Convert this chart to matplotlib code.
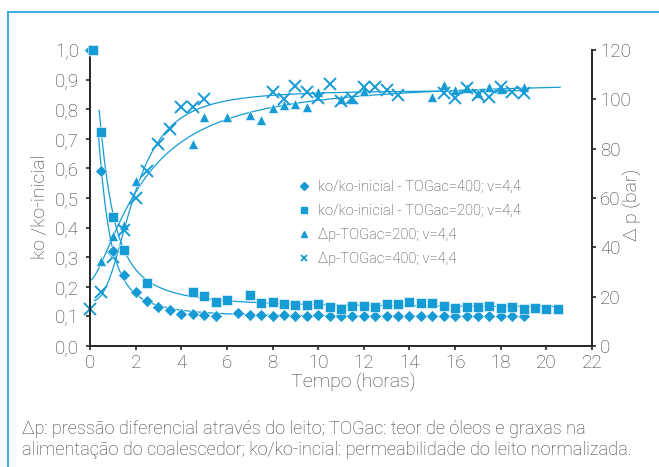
import numpy as np
import matplotlib
matplotlib.use("Agg")
import matplotlib.pyplot as plt
from matplotlib.lines import Line2D
from matplotlib.ticker import FuncFormatter

# ---------------- data ----------------
t_d400 = [0.0, 0.5, 1.0, 1.5, 2.0, 2.5, 3.0, 3.5, 4.0, 4.5, 5.0, 5.5, 6.5, 7.0, 7.5, 8.0, 8.5,
          9.0, 9.5, 10.0, 10.5, 11.0, 11.5, 12.0, 12.5, 13.0, 13.5, 14.0, 14.5, 15.0, 15.5,
          16.0, 16.5, 17.0, 17.5, 18.0, 18.5, 19.0]
ko_400 = [1.0, 0.59, 0.32, 0.24, 0.183, 0.153, 0.131, 0.122, 0.108, 0.108, 0.105, 0.101, 0.11,
          0.105, 0.105, 0.103, 0.105, 0.101, 0.103, 0.105, 0.100, 0.103, 0.102, 0.102, 0.101,
          0.102, 0.102, 0.103, 0.102, 0.102, 0.101, 0.103, 0.101, 0.102, 0.102, 0.101, 0.101, 0.102]

t_s200 = [0.15, 0.5, 1.0, 1.5, 2.5, 4.5, 5.0, 5.5, 6.0, 7.0, 7.5, 8.0, 8.5, 9.0, 9.5, 10.0, 10.5,
          11.0, 11.5, 12.0, 12.5, 13.0, 13.5, 14.0, 14.5, 15.0, 15.5, 16.0, 16.5, 17.0, 17.5,
          18.0, 18.5, 19.0, 19.5, 20.0, 20.5]
ko_200 = [1.0, 0.724, 0.437, 0.325, 0.212, 0.183, 0.169, 0.150, 0.155, 0.172, 0.146, 0.149, 0.142,
          0.139, 0.139, 0.142, 0.133, 0.124, 0.135, 0.135, 0.133, 0.141, 0.142, 0.150, 0.146,
          0.146, 0.135, 0.129, 0.133, 0.131, 0.135, 0.129, 0.131, 0.124, 0.129, 0.126, 0.126]

t_p200 = [0.5, 1.0, 1.5, 2.0, 4.5, 5.0, 6.0, 7.0, 7.5, 8.0, 8.5, 9.0, 9.5, 10.0, 11.0, 11.5, 12.0,
          15.0, 15.5, 16.0, 16.5, 17.0, 17.5, 18.0, 19.0]
dp_200 = [34.6, 44.5, 49.0, 67.0, 82.0, 93.0, 92.7, 93.8, 91.7, 96.6, 97.8, 98.0, 97.0, 102.8,
          100.0, 100.0, 103.2, 101.0, 106.0, 103.8, 104.7, 102.4, 105.0, 104.0, 105.0]

t_p400 = [0.0, 0.5, 1.0, 1.5, 2.0, 2.5, 3.0, 3.5, 4.0, 4.5, 5.0, 8.0, 8.5, 9.0, 9.5, 10.0, 10.5,
          11.0, 11.5, 12.0, 12.5, 13.0, 13.5, 15.5, 16.0, 16.5, 17.0, 17.5, 18.0, 18.5, 19.0]
dp_400 = [15.0, 22.0, 36.0, 47.0, 60.0, 71.0, 82.0, 88.0, 97.0, 97.0, 100.0, 103.0, 100.0, 105.4,
          103.0, 100.5, 106.3, 99.5, 100.4, 105.2, 105.1, 103.8, 101.8, 102.4, 100.4, 104.7,
          101.8, 101.0, 105.1, 103.1, 102.4]

labels = ["ko/ko-inicial - TOGac=400; v=4,4", "ko/ko-inicial - TOGac=200; v=4,4",
          "\u0394p-TOGac=200; v=4,4", "\u0394p-TOGac=400; v=4,4"]
x_ticks = list(range(0, 23, 2))
yl_ticks = [0.0, 0.1, 0.2, 0.3, 0.4, 0.5, 0.6, 0.7, 0.8, 0.9, 1.0]
yr_ticks = list(range(0, 121, 20))
caption = ("\u0394p: pressão diferencial através do leito; TOGac: teor de óleos e graxas na\n"
           "alimentação do coalescedor; ko/ko-incial: permeabilidade do leito normalizada.")

# ---------------- trend fit (Hill-type curve) ----------------
def fit_curve(t, y):
    t = np.asarray(t, float); y = np.asarray(y, float)
    best = None
    for t0 in np.logspace(-1, 1.2, 160):
        for n in np.linspace(0.5, 6, 111):
            g = 1.0 / (1.0 + (t / t0) ** n)
            A = np.column_stack([np.ones_like(g), g])
            coef, *_ = np.linalg.lstsq(A, y, rcond=None)
            sse = np.sum((A @ coef - y) ** 2)
            if best is None or sse < best[0]:
                best = (sse, t0, n, coef)
    _, t0, n, (c, a) = best
    return lambda tt: c + a / (1.0 + (np.asarray(tt) / t0) ** n)

# ---------------- style ----------------
BLUE = "#169bd5"
DARK = "#262626"
TXT = "#3a3a3a"
FONT = ["Roboto", "DejaVu Sans"]
plt.rcParams["font.family"] = FONT
plt.rcParams["font.weight"] = "light"

fig = plt.figure(figsize=(6.59, 4.67), dpi=100)
ax = fig.add_axes([90 / 659, 1 - 346 / 467, (592 - 90) / 659, (346 - 50) / 467])
ax2 = ax.twinx()

# trend lines
fd = fit_curve(t_d400, ko_400)
fs = fit_curve(t_s200, ko_200)
ft = fit_curve(t_p200, dp_200)
fx = fit_curve(t_p400, dp_400)
tt = np.linspace(0.36, 19.2, 400)
ax.plot(tt, fd(tt), color=BLUE, lw=0.9, zorder=2)
tt = np.linspace(0.40, 20.6, 400)
ax.plot(tt, fs(tt), color=BLUE, lw=0.9, zorder=2)
tt = np.linspace(0.07, 20.6, 400)
ax2.plot(tt, ft(tt), color=BLUE, lw=0.9, zorder=2)
tt = np.linspace(0.2, 19.2, 400)
ax2.plot(tt, fx(tt), color=BLUE, lw=0.9, zorder=2)

# markers
ax.plot(t_d400, ko_400, ls="none", marker="D", ms=6.3, color=BLUE, mec="white", mew=0.4,
        clip_on=False, zorder=4)
ax.plot(t_s200, ko_200, ls="none", marker="s", ms=7, color=BLUE, mec="white", mew=0.4,
        clip_on=False, zorder=4)
ax2.plot(t_p200, dp_200, ls="none", marker="^", ms=7.5, color=BLUE, mec="white", mew=0.4,
         clip_on=False, zorder=4)
ax2.plot(t_p400, dp_400, ls="none", marker="x", ms=8, color=BLUE, mew=1.4,
         clip_on=False, zorder=4)

# axes
ax.set_xlim(0, 22)
ax.set_ylim(0, 1.0)
ax2.set_ylim(0, 120)
ax.set_xticks(x_ticks)
ax.set_yticks(yl_ticks)
ax2.set_yticks(yr_ticks)
comma = FuncFormatter(lambda v, p: f"{v:.1f}".replace(".", ","))
ax.yaxis.set_major_formatter(comma)
for a in (ax, ax2):
    a.patch.set_visible(False)
    a.spines["top"].set_visible(False)
    for s in ("left", "right", "bottom"):
        a.spines[s].set_color(DARK)
        a.spines[s].set_linewidth(1.4)
ax.spines["right"].set_visible(False)
ax2.spines["left"].set_visible(False)
ax2.spines["bottom"].set_visible(False)
ax.tick_params(axis="both", direction="out", length=3, width=1.2, color=DARK,
               labelsize=13.5, labelcolor=TXT)
ax.tick_params(axis="y", pad=5)
ax.tick_params(axis="x", pad=3)
ax2.tick_params(axis="y", direction="out", length=3, width=1.2, color=DARK,
                labelsize=13.5, labelcolor=TXT, pad=3)
ax.set_zorder(ax2.get_zorder() + 1)

fig.text(40 / 659, 1 - 207 / 467, "ko /ko-inicial", rotation=90, ha="center", va="center",
         fontsize=14, color=TXT)
fig.text(632 / 659, 1 - 205 / 467, "\u0394 p (bar)", rotation=90, ha="center", va="center",
         fontsize=14, color=TXT)
fig.text(353 / 659, 1 - 383 / 467, "Tempo (horas)", ha="center", va="center",
         fontsize=14, color=TXT)

# legend
handles = [
    Line2D([], [], ls="none", marker="D", ms=4, color=BLUE),
    Line2D([], [], ls="none", marker="s", ms=5, color=BLUE),
    Line2D([], [], ls="none", marker="^", ms=5, color=BLUE),
    Line2D([], [], ls="none", marker="x", ms=5, mew=1.3, color=BLUE),
]
leg = fig.legend(handles, labels, loc="upper left", bbox_to_anchor=(298 / 659, 1 - 180 / 467),
                 frameon=False, fontsize=10.5, handlelength=0.8, handletextpad=0.6,
                 labelspacing=0.68, borderpad=0, borderaxespad=0)
for txt in leg.get_texts():
    txt.set_color(TXT)

# caption
fig.text(22 / 659, 1 - 420 / 467, caption, ha="left", va="top", fontsize=13.1, color=TXT,
         linespacing=1.22)

# frame lines
fig.add_artist(Line2D([8 / 659, 1.0], [1 - 12 / 467, 1 - 12 / 467], transform=fig.transFigure,
                      color="#2aa7df", lw=1.3))
fig.add_artist(Line2D([8 / 659, 8 / 659], [1 - 12 / 467, 0.0], transform=fig.transFigure,
                      color="#2aa7df", lw=1.3))

fig.savefig("out.png", dpi=100)
